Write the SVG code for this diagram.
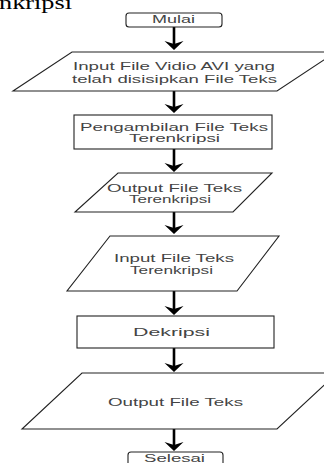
<svg xmlns="http://www.w3.org/2000/svg" width="324" height="463" viewBox="0 0 324 463">
<defs>
<style>
.s{fill:#fff;stroke:#222;stroke-width:1.1}
.t{font-family:"Liberation Sans",Arial,sans-serif;font-size:11px;fill:#444;text-anchor:middle}
.c{stroke:#000;stroke-width:2.6;fill:none}
</style>
<marker id="ah" markerUnits="userSpaceOnUse" viewBox="-10 -10 11 20" markerWidth="11" markerHeight="20" refX="-5" refY="0" orient="auto">
<path d="M0,0 L-9,-9.5 L-6,0 L-9,9.5 Z" fill="#000"/>
</marker>
</defs>
<rect width="324" height="463" fill="#fff"/>
<text x="-1" y="8.5" font-family="Liberation Serif,serif" font-size="19" fill="#000" textLength="73" lengthAdjust="spacingAndGlyphs">nkripsi</text>
<g id="connectors">
<line class="c" x1="174" y1="27" x2="174" y2="45" marker-end="url(#ah)"/>
<line class="c" x1="174" y1="91" x2="174" y2="108" marker-end="url(#ah)"/>
<line class="c" x1="174" y1="149" x2="174" y2="167" marker-end="url(#ah)"/>
<line class="c" x1="174" y1="212" x2="174" y2="229" marker-end="url(#ah)"/>
<line class="c" x1="174" y1="291" x2="174" y2="310" marker-end="url(#ah)"/>
<line class="c" x1="174" y1="348" x2="174" y2="367" marker-end="url(#ah)"/>
<line class="c" x1="174" y1="429" x2="174" y2="446" marker-end="url(#ah)"/>
</g>
<g id="mulai">
<rect class="s" x="126" y="13" width="96" height="14" rx="3"/>
<text class="t" x="173.5" y="23" textLength="43" lengthAdjust="spacingAndGlyphs">Mulai</text>
</g>
<g id="input-video">
<polygon class="s" points="72,52 336,52 277,91 13,91"/>
<text class="t" x="174" y="70" textLength="202" lengthAdjust="spacingAndGlyphs">Input File Vidio AVI yang</text>
<text class="t" x="174.5" y="83" textLength="205" lengthAdjust="spacingAndGlyphs">telah disisipkan File Teks</text>
</g>
<g id="pengambilan">
<rect class="s" x="74" y="115" width="198" height="34"/>
<text class="t" x="174" y="131" textLength="188" lengthAdjust="spacingAndGlyphs">Pengambilan File Teks</text>
<text class="t" x="174.5" y="141.5" textLength="91" lengthAdjust="spacingAndGlyphs">Terenkripsi</text>
</g>
<g id="output-enkripsi">
<polygon class="s" points="118,173 272,173 233,212 75,212"/>
<text class="t" x="174.5" y="191.5" textLength="135" lengthAdjust="spacingAndGlyphs">Output File Teks</text>
<text class="t" x="170" y="202.5" textLength="82" lengthAdjust="spacingAndGlyphs">Terenkripsi</text>
</g>
<g id="input-teks">
<polygon class="s" points="110,236 279,236 237,291 67,291"/>
<text class="t" x="174" y="262" textLength="120" lengthAdjust="spacingAndGlyphs">Input File Teks</text>
<text class="t" x="171.5" y="273.5" textLength="83" lengthAdjust="spacingAndGlyphs">Terenkripsi</text>
</g>
<g id="dekripsi">
<rect class="s" x="77" y="316" width="197" height="32"/>
<text class="t" x="171.5" y="336" textLength="77" lengthAdjust="spacingAndGlyphs">Dekripsi</text>
</g>
<g id="output-teks">
<polygon class="s" points="82,373 337,373 277,429 22,429"/>
<text class="t" x="175.5" y="406" textLength="135" lengthAdjust="spacingAndGlyphs">Output File Teks</text>
</g>
<g id="selesai">
<rect class="s" x="128" y="452" width="95" height="16" rx="3"/>
<text class="t" x="174.5" y="461.5" textLength="61" lengthAdjust="spacingAndGlyphs">Selesai</text>
</g>
</svg>
